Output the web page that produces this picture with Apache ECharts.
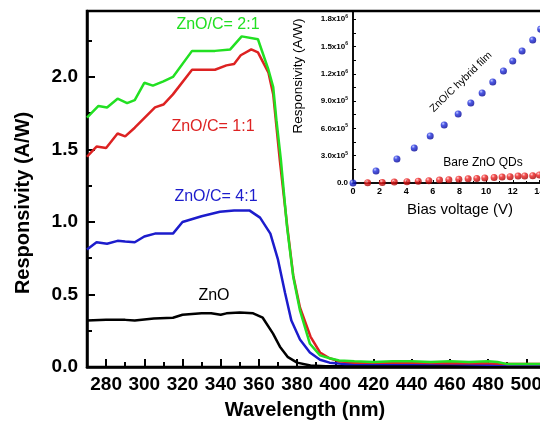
<!DOCTYPE html>
<html><head><meta charset="utf-8">
<script src="https://cdn.jsdelivr.net/npm/echarts@6/dist/echarts.min.js"></script>
<style>html,body{margin:0;padding:0;background:#fff}#c{width:540px;height:422px}</style>
</head><body><div id="c"></div>
<script>
// ---- main plot data (wavelength nm, responsivity A/W) ----
const wl21 = [270,276,280.5,286,291,295,300,304.5,310,315,325,337,345,351,359.5,365,367.5,369.2,371.5,374.7,378,381.5,386.7,392,397,402,410,420,430,440,450,460,470,480,485,490,500,510,520];
const r21  = [1.72,1.80,1.79,1.85,1.82,1.84,1.96,1.94,1.97,2.00,2.18,2.18,2.19,2.28,2.26,2.05,1.93,1.70,1.43,0.97,0.62,0.39,0.16,0.08,0.06,0.045,0.04,0.035,0.04,0.04,0.035,0.04,0.035,0.04,0.035,0.02,0.02,0.02,0.02];
const wl11 = [270,275,280,286,290,295,305.6,310,315,325,331,337,343,347,350.5,356,359.5,365,367.5,371,375,378,381.5,387,392,397,402,410,420,440,460,480,490,500,520];
const r11  = [1.45,1.52,1.51,1.61,1.59,1.65,1.79,1.81,1.88,2.05,2.05,2.05,2.08,2.09,2.15,2.19,2.17,2.03,1.88,1.42,0.95,0.63,0.41,0.21,0.10,0.06,0.04,0.03,0.03,0.03,0.025,0.025,0.02,0.02,0.02];
const wl41 = [270,275,280.5,286,290,295,300,305.6,315,320,330,339.6,347,355,360.6,366,370,373.7,377,381.5,386.7,392,397,405,420,440,460,480,500,520];
const r41  = [0.81,0.86,0.85,0.87,0.865,0.86,0.90,0.92,0.92,1.00,1.04,1.07,1.08,1.08,1.03,0.92,0.74,0.51,0.32,0.19,0.10,0.05,0.03,0.02,0.02,0.02,0.02,0.015,0.015,0.015];
const wlZnO = [270,280,290,295,305,315,320,330,335,340,343,350,357,362,367.4,371,375,380,387,395,410,440,480,520];
const rZnO  = [0.32,0.325,0.325,0.32,0.335,0.34,0.36,0.37,0.37,0.36,0.37,0.375,0.37,0.34,0.23,0.14,0.07,0.03,0.01,0.005,0.005,0.005,0.005,0.005];
const xTicksMajor = [280,300,320,340,360,380,400,420,440,460,480,500];
const xTicksMinor = [290,310,330,350,370,390,410,430,450,470,490,510];
const yTicksMajor = [0,0.5,1.0,1.5,2.0];
const yTicksMinor = [0.25,0.75,1.25,1.75,2.25];
// ---- inset data (bias V, responsivity A/W) ----
const vHybrid = [0,1.73,3.3,4.6,5.8,6.85,7.9,8.85,9.7,10.5,11.3,12.0,12.7,13.5,14.1];
const rHybrid = [0,1.32e5,2.64e5,3.85e5,5.16e5,6.37e5,7.58e5,8.79e5,9.9e5,1.11e6,1.23e6,1.34e6,1.45e6,1.57e6,1.69e6];
const vBare = [1.1,2.2,3.1,4.05,4.9,5.7,6.5,7.2,7.95,8.65,9.3,9.9,10.6,11.2,11.8,12.4,12.9,13.5,14.0];
const rBare = [0.2e4,0.6e4,1.0e4,1.4e4,2.0e4,2.6e4,3.2e4,3.6e4,4.2e4,4.6e4,5.0e4,5.6e4,6.0e4,6.6e4,7.0e4,7.6e4,7.8e4,8.0e4,8.8e4];
const insetYTicks = [0,3e5,6e5,9e5,1.2e6,1.5e6,1.8e6];
const insetYMinor = [1.5e5,4.5e5,7.5e5,1.05e6,1.35e6,1.65e6];

const zip = (a,b)=>a.map((v,i)=>[v,b[i]]);
const F = 'Liberation Sans, Arial, sans-serif';
const chart = echarts.init(document.getElementById('c'));

function supFmt(v){
  if (v===0) return '0.0';
  const e = Math.floor(Math.log10(v)+1e-9);
  const m = v/Math.pow(10,e);
  return m.toFixed(1)+'x10{s|'+e+'}';
}
function ball(light, mid, dark){
  return new echarts.graphic.RadialGradient(0.35,0.3,0.75,[{offset:0,color:light},{offset:0.35,color:mid},{offset:1,color:dark}]);
}
const lineS = (name,d,color)=>({name,type:'line',xAxisIndex:0,yAxisIndex:0,data:d,showSymbol:false,symbol:'none',
  lineStyle:{color,width:2.5},itemStyle:{color},smooth:false,clip:true,z:3});

chart.setOption({
  animation:false,
  backgroundColor:'#fff',
  grid:[
    {left:87, top:11, width:477.5, height:356, show:true, borderColor:'#000', borderWidth:2.5, containLabel:false, outerBoundsMode:'none'},
    {left:353, top:11, width:213, height:172, show:true, backgroundColor:'rgba(255,255,255,0)', borderColor:'#000', borderWidth:1.5, containLabel:false, outerBoundsMode:'none'}
  ],
  xAxis:[
    {type:'value', gridIndex:0, min:270, max:520, position:'bottom',
     axisLine:{lineStyle:{color:'#000',width:2.5}},
     axisTick:{customValues:xTicksMajor, inside:true, length:8, lineStyle:{color:'#000',width:2}},
     axisLabel:{customValues:xTicksMajor, color:'#000', fontFamily:F, fontWeight:'bold', fontSize:19, margin:8},
     splitLine:{show:false}},
    {type:'value', gridIndex:0, min:270, max:520, position:'bottom',
     axisLine:{show:false},
     axisTick:{customValues:xTicksMinor, inside:true, length:5, lineStyle:{color:'#000',width:2}},
     axisLabel:{show:false}, splitLine:{show:false}},
    {type:'value', gridIndex:1, min:0, max:16, interval:2, position:'bottom',
     axisLine:{lineStyle:{color:'#000',width:1.5}},
     axisTick:{inside:true, length:3, lineStyle:{color:'#000',width:1}},
     minorTick:{show:true, splitNumber:2, length:2, lineStyle:{color:'#000'}},
     axisLabel:{color:'#000', fontFamily:F, fontWeight:'bold', fontSize:9, margin:4},
     splitLine:{show:false}}
  ],
  yAxis:[
    {type:'value', gridIndex:0, min:0, max:2.455, position:'left',
     axisLine:{lineStyle:{color:'#000',width:2.5}},
     axisTick:{customValues:yTicksMajor, inside:true, length:8, lineStyle:{color:'#000',width:2}},
     axisLabel:{customValues:yTicksMajor, formatter:v=>v.toFixed(1), color:'#000', fontFamily:F, fontWeight:'bold', fontSize:19, margin:9},
     splitLine:{show:false}},
    {type:'value', gridIndex:0, min:0, max:2.455, position:'left',
     axisLine:{show:false},
     axisTick:{customValues:yTicksMinor, inside:true, length:5, lineStyle:{color:'#000',width:2}},
     axisLabel:{show:false}, splitLine:{show:false}},
    {type:'value', gridIndex:1, min:0, max:1.89e6, position:'left',
     axisLine:{lineStyle:{color:'#000',width:1.5}},
     axisTick:{customValues:insetYTicks.concat(insetYMinor), inside:true, length:3, lineStyle:{color:'#000',width:1}},
     axisLabel:{customValues:insetYTicks, formatter:supFmt, color:'#000', fontFamily:F, fontWeight:'bold', fontSize:8, margin:5,
       rich:{s:{fontSize:5, fontWeight:'bold', fontFamily:F, color:'#000', verticalAlign:'top', padding:[0,0,5,0]}}},
     splitLine:{show:false}}
  ],
  series:[
    lineS('ZnO',zip(wlZnO,rZnO),'#000000'),
    lineS('ZnO/C= 4:1',zip(wl41,r41),'#1c1ccc'),
    lineS('ZnO/C= 1:1',zip(wl11,r11),'#dd2222'),
    lineS('ZnO/C= 2:1',zip(wl21,r21),'#22e022'),
    {name:'Bare ZnO QDs', type:'scatter', xAxisIndex:2, yAxisIndex:2, data:zip(vBare,rBare), symbolSize:7,
     itemStyle:{color:ball('#ffc8c8','#f02020','#a00000')}, z:5},
    {name:'ZnO/C hybrid film', type:'scatter', xAxisIndex:2, yAxisIndex:2, data:zip(vHybrid,rHybrid), symbolSize:7,
     itemStyle:{color:ball('#b8c0ff','#2030e0','#000090')}, z:5}
  ],
  graphic:[
    {type:'text', x:305, y:410, style:{text:'Wavelength (nm)', fill:'#000', font:'bold 20px '+F, textAlign:'center', textVerticalAlign:'middle'}},
    {type:'text', x:23, y:203, rotation:Math.PI/2, style:{text:'Responsivity (A/W)', fill:'#000', font:'bold 20px '+F, textAlign:'center', textVerticalAlign:'middle'}},
    {type:'text', x:460, y:210, style:{text:'Bias voltage (V)', fill:'#000', font:'15px '+F, textAlign:'center', textVerticalAlign:'middle'}},
    {type:'text', x:298, y:76, rotation:Math.PI/2, style:{text:'Responsivity (A/W)', fill:'#000', font:'13.5px '+F, textAlign:'center', textVerticalAlign:'middle'}},
    {type:'text', x:218, y:25, style:{text:'ZnO/C= 2:1', fill:'#22e022', font:'16px '+F, textAlign:'center', textVerticalAlign:'middle'}},
    {type:'text', x:213, y:127, style:{text:'ZnO/C= 1:1', fill:'#dd2222', font:'16px '+F, textAlign:'center', textVerticalAlign:'middle'}},
    {type:'text', x:216, y:197, style:{text:'ZnO/C= 4:1', fill:'#1c1ccc', font:'16px '+F, textAlign:'center', textVerticalAlign:'middle'}},
    {type:'text', x:214, y:296, style:{text:'ZnO', fill:'#000', font:'16px '+F, textAlign:'center', textVerticalAlign:'middle'}},
    {type:'text', x:461, y:82, rotation:44*Math.PI/180, style:{text:'ZnO/C hybrid film', fill:'#000', font:'10.5px '+F, textAlign:'center', textVerticalAlign:'middle'}},
    {type:'text', x:483, y:163, style:{text:'Bare ZnO QDs', fill:'#000', font:'12px '+F, textAlign:'center', textVerticalAlign:'middle'}}
  ]
});
</script></body></html>
